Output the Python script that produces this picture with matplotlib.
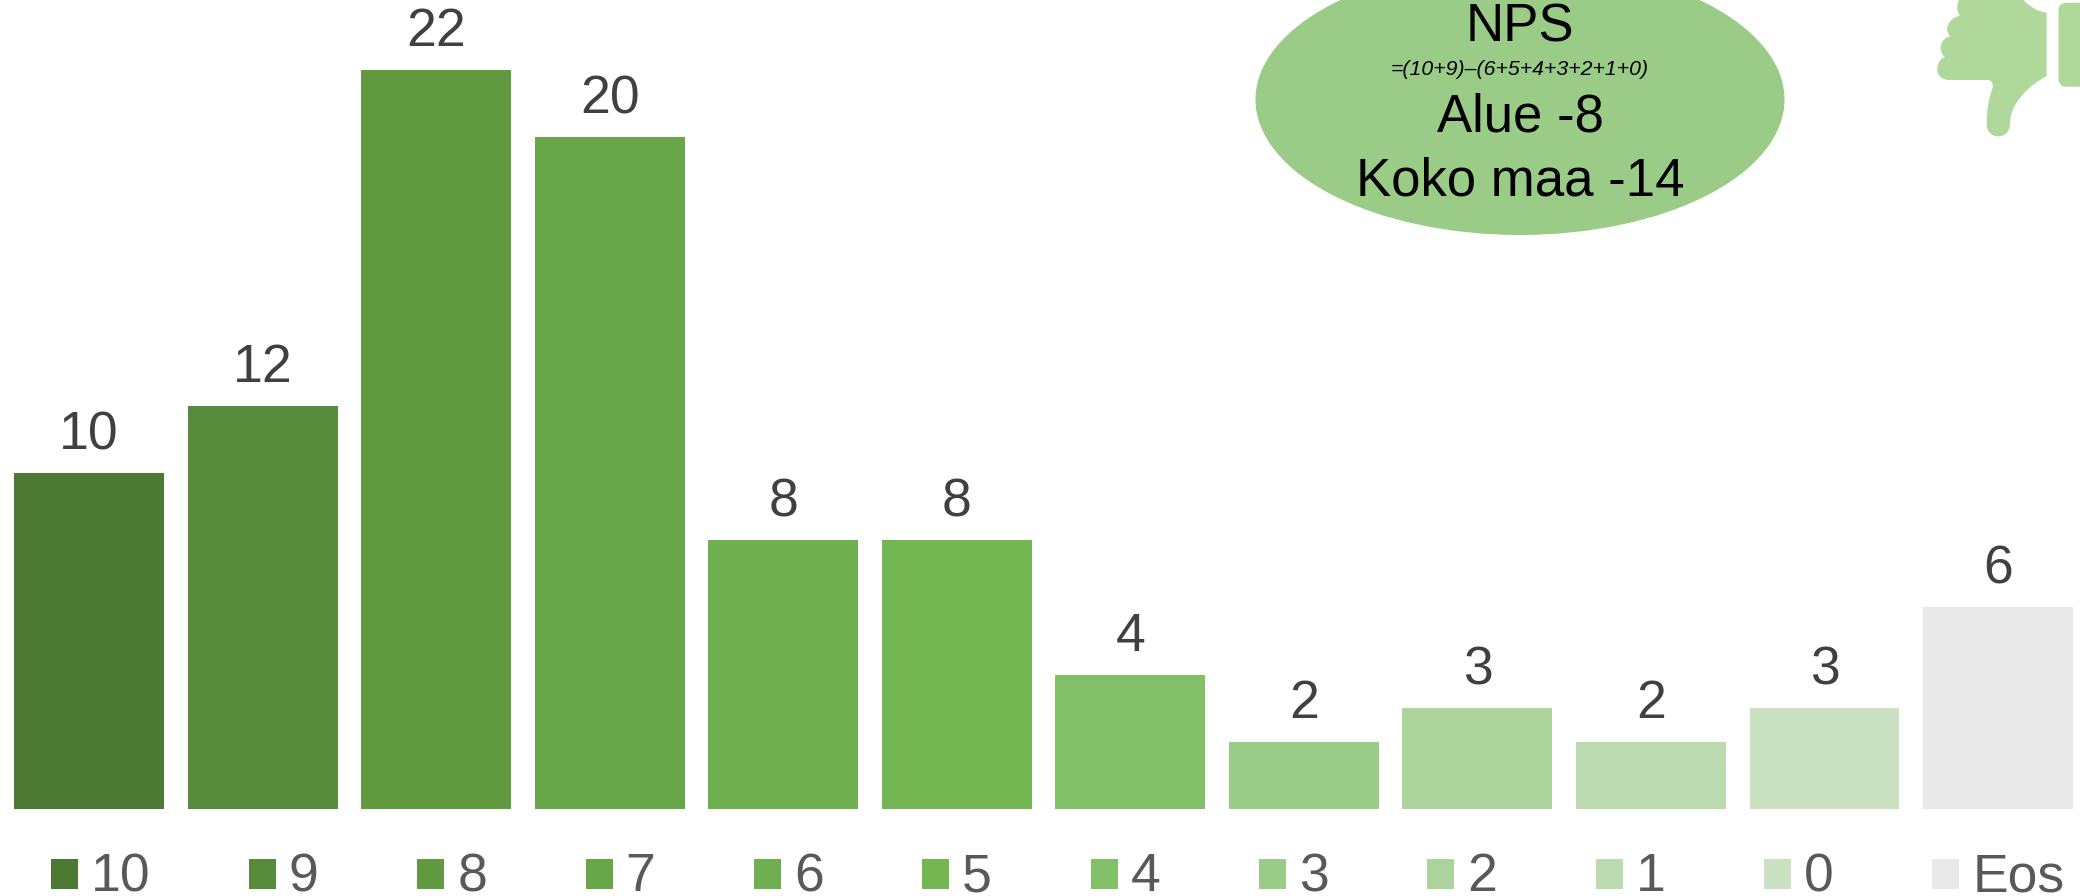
import matplotlib
matplotlib.use("Agg")
import matplotlib.pyplot as plt
from matplotlib.patches import Ellipse, PathPatch, FancyBboxPatch, Rectangle
from matplotlib.path import Path
from matplotlib.legend_handler import HandlerPatch
from matplotlib.transforms import Affine2D

plt.rcParams['font.family'] = ['Liberation Sans', 'DejaVu Sans']

categories = ['10', '9', '8', '7', '6', '5', '4', '3', '2', '1', '0', 'Eos']
values = [10, 12, 22, 20, 8, 8, 4, 2, 3, 2, 3, 6]
colors = ['#4C7A33', '#578A3A', '#619A41', '#69A549', '#6FAF4F', '#74B652',
          '#82C167', '#9ACB87', '#ABD39B', '#BCDAB0', '#CAE1C2', '#E9E9E9']
nps_lines = ['NPS', 'Alue -8', 'Koko maa -14']
nps_formula = '=(10+9)\u2013(6+5+4+3+2+1+0)'

W, H = 2080, 896
fig = plt.figure(figsize=(W / 100, H / 100), dpi=100, facecolor='white')
ax = fig.add_axes([0, 0, 1, 1])
step = 173.55
unit = 33.6
base = 809
ax.set_xlim(-89 / step, (W - 89) / step)
ax.set_ylim(-(H - base) / unit, base / unit)
ax.axis('off')

x = range(len(categories))
bars = ax.bar(x, values, width=150 / step, color=colors, linewidth=0, label='_nolegend_')
ax.bar_label(bars, labels=[str(v) for v in values], padding=9, fontsize=38.5, color='#404040')

# overlay in pixel coordinates (top-left origin) for decorations
px = Affine2D().scale(1 / W, -1 / H).translate(0, 1) + fig.transFigure
deco = '#9ACB87'
fig.add_artist(Ellipse((1520, 99.5), 529, 271, facecolor=deco, edgecolor='none', transform=px, zorder=3))
for s, yb in zip(nps_lines, [42, 132, 196]):
    fig.text(1520, yb, s, transform=px, ha='center', va='baseline', fontsize=38, color='black', zorder=4)
fig.text(1520, 75, nps_formula, transform=px, ha='center', va='baseline', fontsize=15.3,
         style='italic', color='black', zorder=4)

# thumbs-down icon (outline traced in 3x crop units, origin 1920,0)
M, L, C3, C4 = Path.MOVETO, Path.LINETO, Path.CURVE3, Path.CURVE4
outline = [
    (M, (380, 38)), (C3, (345, 35)), (C3, (310, 0)), (L, (300, -15)), (L, (125, -15)),
    (C3, (100, 20)), (C3, (120, 48)),
    (C4, (95, 48)), (C4, (65, 85)), (C4, (92, 110)),
    (C4, (65, 110)), (C4, (50, 150)), (C4, (75, 172)),
    (C4, (50, 175)), (C4, (35, 235)), (C4, (85, 240)),
    (L, (205, 240)), (C3, (220, 242)), (C3, (218, 262)),
    (C3, (200, 310)), (C3, (200, 370)),
    (C4, (200, 395)), (C4, (215, 409)), (C4, (235, 409)),
    (C4, (255, 409)), (C4, (270, 395)), (C4, (270, 370)),
    (C4, (270, 315)), (C4, (320, 260)), (C4, (380, 228)),
    (L, (380, 38)),
]
thumb = '#B0D89B'
path = Path([(1920 + p[0] / 3, p[1] / 3) for _, p in outline], [c for c, _ in outline])
fig.add_artist(PathPatch(path, facecolor=thumb, edgecolor='none', transform=px, zorder=3))
fig.add_artist(FancyBboxPatch((2058.5, 2.7), 60, 84, boxstyle='round,pad=0,rounding_size=8', facecolor=thumb,
                              edgecolor='none', transform=px, zorder=3))


# legend: squares sit a little lower than the text centre
def square(legend, orig_handle, xdescent, ydescent, width, height, fontsize):
    return Rectangle((-xdescent, -ydescent - 1.5), width, height)


handles = [Rectangle((0, 0), 1, 1, facecolor=c, edgecolor='none', linewidth=0) for c in colors]
fs = 38.5
em = fs * 100 / 72
leg = ax.legend(handles, categories, ncol=12, frameon=False, prop={'size': fs},
                labelcolor='#595959', loc='lower left',
                bbox_to_anchor=(50.8 / W, 1 - 902 / H), bbox_transform=fig.transFigure,
                borderpad=0, borderaxespad=0, handlelength=27 / em, handleheight=27 / em,
                handletextpad=13 / em, columnspacing=98.5 / em,
                handler_map={Rectangle: HandlerPatch(patch_func=square)})
fig.savefig('out.png', dpi=100)
